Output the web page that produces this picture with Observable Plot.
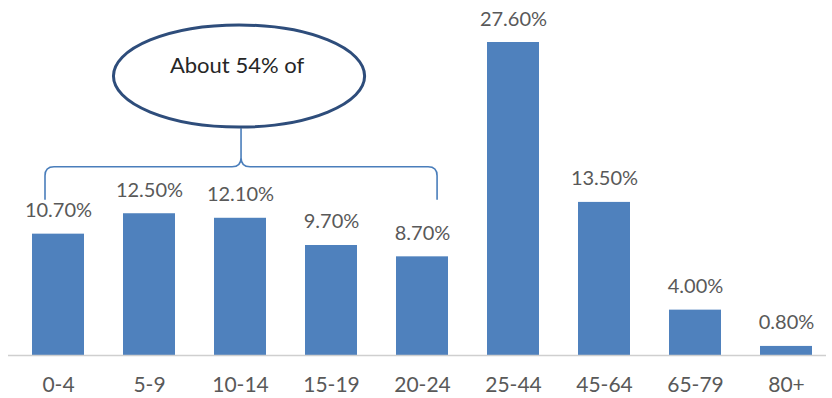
<!DOCTYPE html>
<html><head><meta charset="utf-8">
<script src="https://cdn.jsdelivr.net/npm/d3@7"></script>
<script src="https://cdn.jsdelivr.net/npm/@observablehq/plot@0.6"></script>
<style>body{margin:0;background:#fff;overflow:hidden}</style>
</head><body><div id="chart"></div>
<script>
// Data
const groups = ["0-4","5-9","10-14","15-19","20-24","25-44","45-64","65-79","80+"];
const shares = [10.7,12.5,12.1,9.7,8.7,27.6,13.5,4.0,0.8];
const shareLabels = ["10.70%","12.50%","12.10%","9.70%","8.70%","27.60%","13.50%","4.00%","0.80%"];
const calloutText = "About 54% of";
const calloutGroups = ["0-4","20-24"];

const data = groups.map((g,i)=>({group:g, share:shares[i], label:shareLabels[i]}));
const font = "Lato, 'Open Sans', sans-serif";
const textColor = "#595959";

// Annotation (brace + ellipse callout), positioned through the scales
function callout(index, scales, values, dims, context) {
  const x = scales.x, y = scales.y, bw = x.bandwidth(), step = x.step();
  const g = d3.create("svg:g");
  const x0 = x(calloutGroups[0]) + bw*0.25;
  const x1 = x(calloutGroups[1]) + bw*0.79;
  const xm = (x0 + x1) / 2;
  const yEnd = y(13.7), yBar = y(16.6), yTip = y(20.0);
  const r = 9;
  const p = d3.path();
  p.moveTo(x0, yEnd);
  p.lineTo(x0, yBar + r);
  p.quadraticCurveTo(x0, yBar, x0 + r, yBar);
  p.lineTo(xm - r, yBar);
  p.quadraticCurveTo(xm, yBar, xm, yBar - r);
  p.lineTo(xm, yTip);
  p.moveTo(xm, yBar - r);
  p.quadraticCurveTo(xm, yBar, xm + r, yBar);
  p.lineTo(x1 - r, yBar);
  p.quadraticCurveTo(x1, yBar, x1, yBar + r);
  p.lineTo(x1, yEnd);
  g.append("path").attr("d", p.toString()).attr("fill","none")
    .attr("stroke","#4A7EBB").attr("stroke-width",1.6);
  const cy = y(24.6);
  g.append("ellipse").attr("cx", xm - 2).attr("cy", cy)
    .attr("rx", step*1.38).attr("ry", y(24.6-4.5) - cy)
    .attr("fill","#fff").attr("stroke","#2E4D7B").attr("stroke-width",3);
  g.append("text").attr("x", xm - 4).attr("y", y(24.85))
    .attr("text-anchor","middle").attr("fill","#262626")
    .attr("font-family", font).attr("font-size", 22).text(calloutText);
  return g.node();
}

const chart = Plot.plot({
  width: 832, height: 398,
  marginTop: 42, marginBottom: 43, marginLeft: 8, marginRight: 6,
  x: {domain: groups, range: [30, 814], paddingInner: 0.43, paddingOuter: 0, label: null},
  y: {domain: [0, 27.6], axis: null},
  style: {fontFamily: font, color: textColor, background: "#fff", overflow: "visible"},
  marks: [
    Plot.barY(data, {x: "group", y: "share", fill: "#4F81BD"}),
    Plot.ruleY([0], {stroke: "#CFCFCF", strokeWidth: 1.5}),
    Plot.text(data, {x: "group", y: "share", text: "label", lineAnchor: "bottom", dy: -17, fontSize: 20, fill: textColor, style: "letter-spacing:0.6px"}),
    callout,
    Plot.axisX({tickSize: 0, tickPadding: 22, fontSize: 21, fill: textColor, label: null})
  ]
});
document.getElementById("chart").append(chart);
</script>
</body></html>
